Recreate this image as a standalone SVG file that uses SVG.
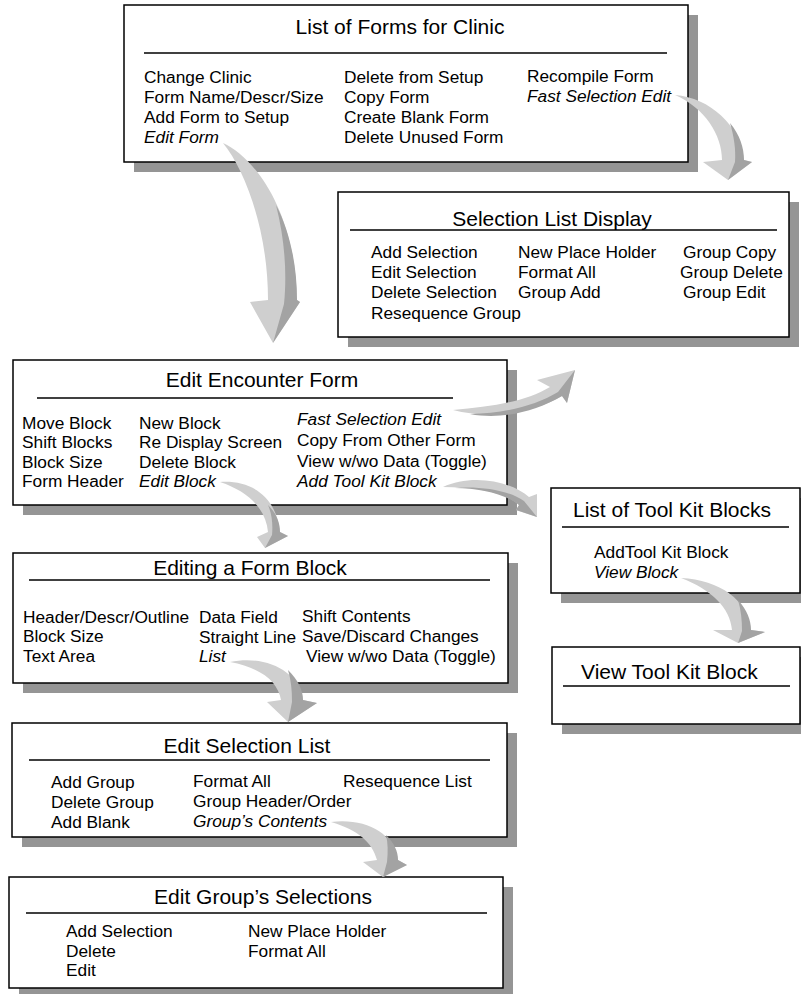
<svg xmlns="http://www.w3.org/2000/svg" width="801" height="994" viewBox="0 0 801 994">
<style>
.sh{fill:#959595}
.bx{fill:#fff;stroke:#000;stroke-width:1.5}
.ul{stroke:#000;stroke-width:1.5}
.t{font-family:"Liberation Sans",Arial,sans-serif;font-size:21px;fill:#000}
.i{font-family:"Liberation Sans",Arial,sans-serif;font-size:17.3px;fill:#000}
.it{font-style:italic}
.c{text-anchor:middle}
.af{fill:#cfcfcf}
.ad{fill:#a3a3a3}
</style>
<rect width="801" height="994" fill="#fff"/>

<g id="forms-list">
<rect class="sh" x="134" y="15" width="564" height="157"/>
<rect class="bx" x="124" y="5" width="564" height="157"/>
<text class="t c" x="400" y="34">List of Forms for Clinic</text>
<line class="ul" x1="144" y1="53" x2="667" y2="53"/>
<text class="i" x="144" y="83">Change Clinic</text>
<text class="i" x="144" y="103">Form Name/Descr/Size</text>
<text class="i" x="144" y="123">Add Form to Setup</text>
<text class="i it" x="144" y="143">Edit Form</text>
<text class="i" x="344" y="83">Delete from Setup</text>
<text class="i" x="344" y="103">Copy Form</text>
<text class="i" x="344" y="123">Create Blank Form</text>
<text class="i" x="344" y="143">Delete Unused Form</text>
<text class="i" x="527" y="82">Recompile Form</text>
<text class="i it" x="527" y="102">Fast Selection Edit</text>
</g>

<g id="selection-list-display">
<rect class="sh" x="348" y="202" width="451" height="145"/>
<rect class="bx" x="338" y="192" width="451" height="145"/>
<text class="t c" x="552" y="226">Selection List Display</text>
<line class="ul" x1="350" y1="230" x2="777" y2="230"/>
<text class="i" x="371" y="258">Add Selection</text>
<text class="i" x="371" y="278">Edit Selection</text>
<text class="i" x="371" y="298">Delete Selection</text>
<text class="i" x="371" y="319">Resequence Group</text>
<text class="i" x="518" y="258">New Place Holder</text>
<text class="i" x="518" y="278">Format All</text>
<text class="i" x="518" y="298">Group Add</text>
<text class="i" x="683" y="258">Group Copy</text>
<text class="i" x="680" y="278">Group Delete</text>
<text class="i" x="683" y="298">Group Edit</text>
</g>

<g id="edit-encounter-form">
<rect class="sh" x="23" y="370" width="494" height="145"/>
<rect class="bx" x="13" y="360" width="494" height="145"/>
<text class="t c" x="262" y="387">Edit Encounter Form</text>
<line class="ul" x1="37" y1="398" x2="453" y2="398"/>
<text class="i" x="22" y="429">Move Block</text>
<text class="i" x="22" y="448">Shift Blocks</text>
<text class="i" x="22" y="468">Block Size</text>
<text class="i" x="22" y="487">Form Header</text>
<text class="i" x="139" y="429">New Block</text>
<text class="i" x="139" y="448">Re Display Screen</text>
<text class="i" x="139" y="468">Delete Block</text>
<text class="i it" x="139" y="487">Edit Block</text>
<text class="i it" x="297" y="425">Fast Selection Edit</text>
<text class="i" x="297" y="446">Copy From Other Form</text>
<text class="i" x="297" y="467">View w/wo Data (Toggle)</text>
<text class="i it" x="297" y="487">Add Tool Kit Block</text>
</g>

<g id="tool-kit-list">
<rect class="sh" x="561" y="498" width="249" height="105"/>
<rect class="bx" x="551" y="488" width="249" height="105"/>
<text class="t" x="573" y="517">List of Tool Kit Blocks</text>
<line class="ul" x1="562" y1="527" x2="789" y2="527"/>
<text class="i" x="594" y="558">AddTool Kit Block</text>
<text class="i it" x="594" y="578">View Block</text>
</g>

<g id="view-tool-kit-block">
<rect class="sh" x="562" y="657" width="248" height="77"/>
<rect class="bx" x="552" y="647" width="248" height="77"/>
<text class="t" x="581" y="679">View Tool Kit Block</text>
<line class="ul" x1="563" y1="686" x2="790" y2="686"/>
</g>

<g id="editing-form-block">
<rect class="sh" x="23" y="563" width="495" height="130"/>
<rect class="bx" x="13" y="553" width="495" height="130"/>
<text class="t c" x="250" y="575">Editing a Form Block</text>
<line class="ul" x1="29" y1="580" x2="490" y2="580"/>
<text class="i" x="23" y="623">Header/Descr/Outline</text>
<text class="i" x="23" y="642">Block Size</text>
<text class="i" x="23" y="662">Text Area</text>
<text class="i" x="199" y="623">Data Field</text>
<text class="i" x="199" y="643">Straight Line</text>
<text class="i it" x="199" y="662">List</text>
<text class="i" x="302" y="622">Shift Contents</text>
<text class="i" x="302" y="642">Save/Discard Changes</text>
<text class="i" x="306" y="662">View w/wo Data (Toggle)</text>
</g>

<g id="edit-selection-list">
<rect class="sh" x="22" y="733" width="495" height="114"/>
<rect class="bx" x="12" y="723" width="495" height="114"/>
<text class="t c" x="247" y="753">Edit Selection List</text>
<line class="ul" x1="29" y1="760" x2="490" y2="760"/>
<text class="i" x="51" y="788">Add Group</text>
<text class="i" x="51" y="808">Delete Group</text>
<text class="i" x="51" y="828">Add Blank</text>
<text class="i" x="193" y="787">Format All</text>
<text class="i" x="193" y="807">Group Header/Order</text>
<text class="i it" x="193" y="827">Group’s Contents</text>
<text class="i" x="343" y="787">Resequence List</text>
</g>

<g id="edit-group-selections">
<rect class="sh" x="19" y="887" width="494" height="111"/>
<rect class="bx" x="9" y="877" width="494" height="111"/>
<text class="t c" x="263" y="904">Edit Group’s Selections</text>
<line class="ul" x1="26" y1="913" x2="487" y2="913"/>
<text class="i" x="66" y="937">Add Selection</text>
<text class="i" x="66" y="957">Delete</text>
<text class="i" x="66" y="976">Edit</text>
<text class="i" x="248" y="937">New Place Holder</text>
<text class="i" x="248" y="957">Format All</text>
</g>

<g id="connectors">
<path class="af" d="M223,143 C255,158 295,210 297,300 L300,302 L273,343 L250,302 L268,300 C268,230 245,170 223,143 Z"/>
<path class="ad" d="M276,205 C290,232 297,265 297,300 L300,302 L273,343 L284,304 C287,275 285,240 276,205 Z"/>

<path class="af" d="M675,95 C710,98 740,125 744,160 L752,162 L728,180 L703,162 L722,160 C722,135 705,108 675,95 Z"/>
<path class="ad" d="M730,123 C740,135 744,148 744,160 L752,162 L728,180 L735,162 C736,150 734,136 730,123 Z"/>

<path class="af" d="M453,410 C490,420 535,412 562,396 L567,403 L575,370 L537,380 L550,387 C525,402 490,407 453,410 Z"/>
<path class="ad" d="M470,414 C500,420 535,412 562,396 L567,403 L575,370 L558,392 C535,406 505,413 470,414 Z"/>

<path class="af" d="M443,487 C470,474 510,480 529,497 L537,494 L537,517 L516,510 L519,505 C505,492 475,487 443,487 Z"/>
<path class="ad" d="M455,488 C480,488 505,494 519,505 L516,510 L537,517 L524,501 C508,490 480,486 455,488 Z"/>

<path class="af" d="M220,482 C250,480 276,495 280,532 L288,536 L265,548 L257,537 L268,532 C266,510 250,492 220,482 Z"/>
<path class="ad" d="M268,505 C276,513 280,522 280,532 L288,536 L265,548 L272,535 C273,525 272,514 268,505 Z"/>

<path class="af" d="M230,662 C265,655 298,670 303,700 L317,703 L288,722 L267,702 L281,700 C278,682 262,668 230,662 Z"/>
<path class="ad" d="M288,670 C298,680 303,690 303,700 L317,703 L288,722 L292,702 C292,690 291,680 288,670 Z"/>

<path class="af" d="M331,822 C365,818 393,832 398,860 L407,865 L383,877 L363,862 L377,860 C372,842 358,830 331,822 Z"/>
<path class="ad" d="M386,835 C394,843 398,851 398,860 L407,865 L383,877 L387,862 C388,852 388,843 386,835 Z"/>

<path class="af" d="M681,578 C720,580 748,600 751,630 L765,632 L738,643 L713,630 L732,630 C730,608 712,590 681,578 Z"/>
<path class="ad" d="M738,600 C747,610 751,620 751,630 L765,632 L738,643 L742,631 C742,620 741,610 738,600 Z"/>
</g>
</svg>
